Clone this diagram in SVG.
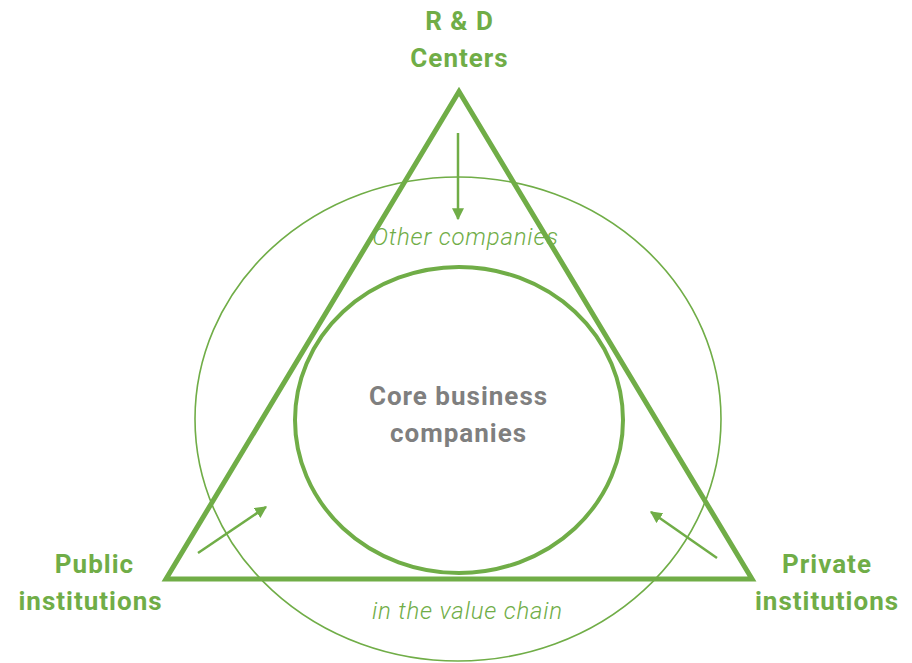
<svg xmlns="http://www.w3.org/2000/svg" width="912" height="663" viewBox="0 0 912 663">
<style>
.g{fill:none;stroke:#70AD47}
.lbl{font-family:Roboto,"Liberation Sans",sans-serif;font-weight:bold;font-size:26px;letter-spacing:1px;fill:#70AD47;text-anchor:middle}
.core{font-family:Roboto,"Liberation Sans",sans-serif;font-weight:bold;font-size:26px;letter-spacing:1px;fill:#7F7F7F;text-anchor:middle}
.it{font-family:Roboto,"Liberation Sans",sans-serif;font-style:italic;font-weight:300;font-size:24px;letter-spacing:0.8px;fill:#70AD47;text-anchor:middle}
.arr{stroke:#70AD47;stroke-width:2.5;fill:none;marker-end:url(#ah)}
</style>
<defs>
<marker id="ah" viewBox="0 0 10 10" refX="9" refY="5" markerWidth="12" markerHeight="12" markerUnits="userSpaceOnUse" orient="auto">
<path d="M0,0 L10,5 L0,10 z" fill="#70AD47"/>
</marker>
</defs>
<rect width="912" height="663" fill="#fff"/>
<g id="outer-ring">
<ellipse class="g" cx="458" cy="419" rx="263" ry="242" stroke-width="1.6"/>
<text class="it" x="465.5" y="245">Other companies</text>
<text class="it" x="467.5" y="619">in the value chain</text>
</g>
<g id="core">
<ellipse class="g" cx="459" cy="420" rx="164" ry="153" stroke-width="4"/>
<text class="core" x="458.5" y="405">Core business</text>
<text class="core" x="458.5" y="442">companies</text>
</g>
<g id="triangle">
<polygon class="g" points="459,91.5 166,579 752,579" stroke-width="5" stroke-linejoin="miter"/>
</g>
<g id="rd">
<text class="lbl" x="459.5" y="29.5">R &amp; D</text>
<text class="lbl" x="459.5" y="66.5">Centers</text>
</g>
<g id="public">
<text class="lbl" x="94.5" y="573">Public</text>
<text class="lbl" x="90.5" y="610">institutions</text>
</g>
<g id="private">
<text class="lbl" x="827" y="573">Private</text>
<text class="lbl" x="827" y="610">institutions</text>
</g>
<g id="connectors">
<line class="arr" x1="458" y1="133" x2="458" y2="219"/>
<line class="arr" x1="198" y1="553" x2="266" y2="507"/>
<line class="arr" x1="717" y1="558" x2="651" y2="512"/>
</g>
</svg>
